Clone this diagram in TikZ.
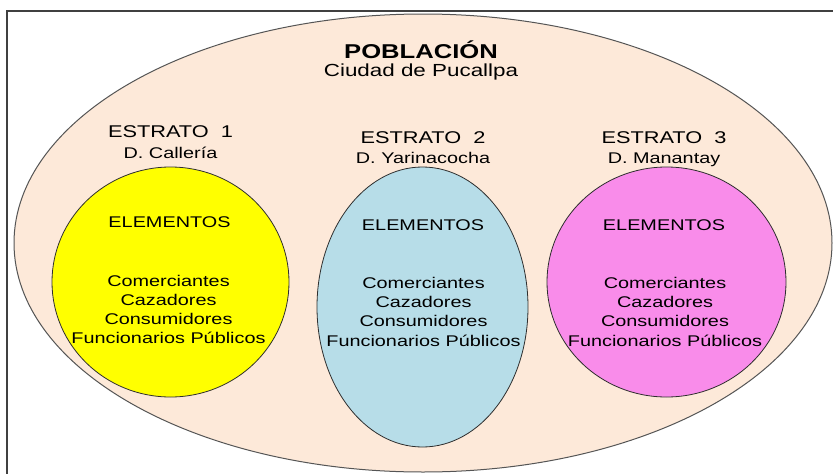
\documentclass[tikz,border=0pt]{standalone}
\usepackage{fontspec}
\setmainfont{Liberation Sans}[FakeStretch=1.28]
\usetikzlibrary{shapes.geometric}
\definecolor{peach}{HTML}{FDE9D9}
\definecolor{yel}{HTML}{FFFF00}
\definecolor{lblue}{HTML}{B7DDE8}
\definecolor{pink}{HTML}{F98CEA}
\definecolor{framecol}{HTML}{404040}
\definecolor{outl}{HTML}{555555}
\definecolor{inoutl}{HTML}{2E2E2E}
\tikzset{
  popbox/.style={ellipse, draw=outl, line width=1pt, fill=peach, inner sep=0pt},
  strbox/.style={ellipse, draw=inoutl, line width=0.8pt, inner sep=0pt},
  txt/.style={anchor=base, inner sep=0pt, text=black},
  big/.style={txt, font=\bfseries\fontsize{20}{24}\selectfont},
  sub/.style={txt, font=\fontsize{15.5}{18}\selectfont},
  ciu/.style={txt, font=\fontsize{17.5}{20}\selectfont},
  hdr/.style={txt, font=\fontsize{17}{20}\selectfont},
  itm/.style={txt, font=\fontsize{15.5}{18}\selectfont}
}
\begin{document}
\begin{tikzpicture}[x=1pt,y=-1pt]
\clip (0,0) rectangle (833,474);
\fill[white] (0,0) rectangle (833,474);
% frame
\draw[framecol, line width=1.3pt] (7,490) -- (7,11) -- (850,11);
% population ellipse
\node[popbox, minimum width=818pt, minimum height=458pt] (pob) at (423,243) {};
% strata
\node[strbox, fill=yel, minimum width=237pt, minimum height=230pt] (e1) at (170.5,282) {};
\node[strbox, fill=lblue, minimum width=211pt, minimum height=280pt] (e2) at (422.5,307) {};
\node[strbox, fill=pink, minimum width=239pt, minimum height=230pt] (e3) at (666.5,282) {};
% titles
\node[big] (tpob) at (421,58) {POBLACIÓN};
\node[ciu] (tciu) at (421,76) {Ciudad de Pucallpa};
% column 1
\node[hdr] (h1) at (170.5,137) {ESTRATO\ \ 1};
\node[sub] (d1) at (170.5,158) {D. Callería};
\node[itm] (el1) at (169.5,227) {ELEMENTOS};
\node[itm] (a1) at (168.5,286) {Comerciantes};
\node[itm] (b1) at (168.5,305.2) {Cazadores};
\node[itm] (c1) at (168.5,324.4) {Consumidores};
\node[itm] (f1) at (168.5,343.6) {Funcionarios Públicos};
% column 2
\node[hdr] (h2) at (423,143) {ESTRATO\ \ 2};
\node[sub] (d2) at (423,163) {D. Yarinacocha};
\node[itm] (el2) at (423,230) {ELEMENTOS};
\node[itm] (a2) at (423.5,288) {Comerciantes};
\node[itm] (b2) at (423.5,307.3) {Cazadores};
\node[itm] (c2) at (423.5,326.6) {Consumidores};
\node[itm] (f2) at (423.5,346) {Funcionarios Públicos};
% column 3
\node[hdr] (h3) at (664,143) {ESTRATO\ \ 3};
\node[sub] (d3) at (664,163) {D. Manantay};
\node[itm] (el3) at (664,230) {ELEMENTOS};
\node[itm] (a3) at (665,288) {Comerciantes};
\node[itm] (b3) at (665,307.3) {Cazadores};
\node[itm] (c3) at (665,326.6) {Consumidores};
\node[itm] (f3) at (665,346) {Funcionarios Públicos};
\end{tikzpicture}
\end{document}
